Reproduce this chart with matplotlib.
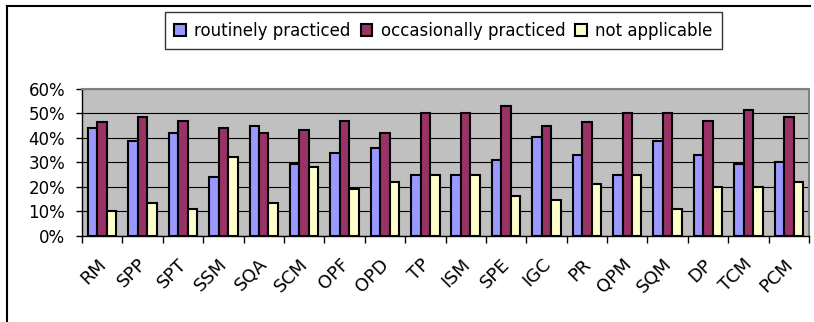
import matplotlib
matplotlib.use("Agg")
import matplotlib.pyplot as plt
import matplotlib.transforms as mtransforms
import numpy as np
from matplotlib.lines import Line2D

# practice areas
areas = ['RM', 'SPP', 'SPT', 'SSM', 'SQA', 'SCM', 'OPF', 'OPD', 'TP',
         'ISM', 'SPE', 'IGC', 'PR', 'QPM', 'SQM', 'DP', 'TCM', 'PCM']

# percentages
routinely = [44.0, 38.9, 41.9, 24.2, 44.7, 29.2, 33.7, 35.9, 24.9,
             24.9, 30.9, 40.4, 33.1, 24.9, 38.9, 33.1, 29.4, 30.1]
occasionally = [46.3, 48.5, 47.0, 44.0, 41.9, 43.3, 47.0, 41.9, 50.0,
                50.0, 52.9, 44.7, 46.3, 50.0, 50.0, 47.0, 51.4, 48.4]
not_applicable = [10.2, 13.3, 11.1, 32.2, 13.3, 27.9, 19.1, 22.0, 24.9,
                  24.9, 16.1, 14.6, 21.3, 24.9, 11.1, 19.9, 19.9, 22.0]

series = [routinely, occasionally, not_applicable]
labels = ['routinely practiced', 'occasionally practiced', 'not applicable']
colors = ['#9999FF', '#993366', '#FFFFCC']

plt.rcParams['font.family'] = ['DejaVu Sans']

fig = plt.figure(figsize=(8.14, 3.22), dpi=100)
ax = fig.add_axes([82/814, 1-235.7/322, (809-82)/814, (235.7-89)/322])
ax.set_facecolor('#C0C0C0')

x = np.arange(len(areas))
w = 0.235
bars = []
for i, (vals, col) in enumerate(zip(series, colors)):
    b = ax.bar(x + (i-1)*w, vals, w, color=col, edgecolor='black',
               linewidth=1.5, zorder=3, label=labels[i])
    bars.append(b)

ax.set_xlim(-0.5, len(areas)-0.5)
ax.set_ylim(0, 60)
ax.set_yticks(range(0, 61, 10))
ax.set_yticklabels([f'{v}%' for v in range(0, 61, 10)], fontsize=12)
ax.yaxis.grid(True, color='black', linewidth=0.8, zorder=1)
ax.tick_params(axis='y', length=4, width=1, direction='out', pad=8)

ax.set_xticks(x)
ax.set_xticklabels(areas, rotation=45, ha='right', va='top',
                   rotation_mode='anchor', fontsize=13)
ax.tick_params(axis='x', which='major', length=0, pad=14)
shift = mtransforms.ScaledTranslation(-5/100, 0, fig.dpi_scale_trans)
for lab in ax.get_xticklabels():
    lab.set_transform(lab.get_transform() + shift)
ax.set_xticks(np.arange(-0.5, len(areas), 1.0), minor=True)
ax.tick_params(axis='x', which='minor', length=5, width=1,
               direction='out', color='black')

for s in ['top', 'right']:
    ax.spines[s].set_color('#808080')
    ax.spines[s].set_linewidth(1.5)
for s in ['left', 'bottom']:
    ax.spines[s].set_color('black')
    ax.spines[s].set_linewidth(1)

leg = fig.legend(handles=bars, labels=labels, loc='center',
                 bbox_to_anchor=(443.5/814, 1-30.5/322), ncol=3,
                 fontsize=12, frameon=True, fancybox=False,
                 handlelength=0.7, handleheight=0.7, handletextpad=0.5,
                 columnspacing=0.6, borderpad=0.55, borderaxespad=0)
leg.get_frame().set_edgecolor('black')
leg.get_frame().set_linewidth(1)

# outer chart frame (left and top edges visible)
fig.add_artist(Line2D([7/814, 7/814], [0, 1-6/322], color='black',
                      linewidth=1.5, transform=fig.transFigure))
fig.add_artist(Line2D([7/814, 810/814], [1-6/322, 1-6/322], color='black',
                      linewidth=1.5, transform=fig.transFigure))

fig.savefig('out.png', dpi=100)
